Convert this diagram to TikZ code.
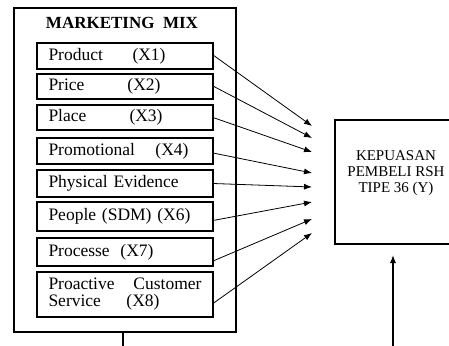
\documentclass[tikz,border=0pt]{standalone}
\usepackage{fontspec}
\setmainfont{Liberation Serif}
\usetikzlibrary{arrows.meta}
\begin{document}
\begin{tikzpicture}[x=1pt,y=-1pt,
  every node/.style={inner sep=0pt, outer sep=0pt},
  varbox/.style={draw, line width=2.4pt, minimum width=176pt, text width=153pt, align=left,
    font=\fontsize{17.5}{19}\selectfont},
  link/.style={line width=0.8pt, -{Latex[length=8pt,width=6pt]}}]
\useasboundingbox (0,0) rectangle (449,345);
\clip (0,0) rectangle (449,345);

% outer frame of the marketing mix
\node[draw, line width=1.4pt, minimum width=222pt, minimum height=324pt] (mix) at (125,170) {};
\node[font=\fontsize{17}{19}\selectfont\bfseries] (title) at (122,23) {MARKETING\ \ MIX};

% the eight variables
\node[varbox, minimum height=26pt] (b1) at (125,56)    {\makebox[84pt][l]{Product}(X1)};
\node[varbox, minimum height=25pt] (b2) at (125,86.5)  {\makebox[79pt][l]{Price}(X2)};
\node[varbox, minimum height=25pt] (b3) at (125,117.5) {\makebox[81pt][l]{Place}(X3)};
\node[varbox, minimum height=26pt] (b4) at (125,151)   {\makebox[107pt][l]{Promotional}(X4)};
\node[varbox, minimum height=27pt] (b5) at (125,183.5) {Physical\ Evidence};
\node[varbox, minimum height=29pt] (b6) at (125,216.5) {People (SDM) (X6)};
\node[varbox, minimum height=28pt] (b7) at (125,252)   {\makebox[72pt][l]{Processe}(X7)};
\node[varbox, minimum height=45pt, font=\fontsize{17.5}{17}\selectfont] (b8) at (125,294.5)
  {Proactive\hfill Customer\\\makebox[78pt][l]{Service}(X8)};

% dependent variable
\node[draw, line width=2pt, minimum width=122pt, minimum height=124pt, align=center,
  font=\fontsize{15}{16}\selectfont] (y) at (396,182)
  {KEPUASAN\\PEMBELI RSH\\TIPE 36 (Y)\\[5pt]};

% arrow ends
\coordinate (e1) at (312,126);
\coordinate (e2) at (312,138);
\coordinate (e3) at (312,152);
\coordinate (e4) at (312,173);
\coordinate (e5) at (312,187);
\coordinate (e6) at (312,202);
\coordinate (e7) at (312,219);
\coordinate (e8) at (312,233);
\coordinate (ybot) at (393,348);
\coordinate (ytip) at (393,255);
\coordinate (mixbot) at (123,348);

\draw[link] ([yshift=1pt]b1.east) -- (e1);
\draw[link] ([yshift=0.5pt]b2.east) -- (e2);
\draw[link] (b3.east) -- (e3);
\draw[link] ([yshift=-2pt]b4.east) -- (e4);
\draw[link] (b5.east) -- (e5);
\draw[link] ([yshift=-4pt]b6.east) -- (e6);
\draw[link] ([yshift=-9pt]b7.east) -- (e7);
\draw[link] ([yshift=-9pt]b8.east) -- (e8);

\draw[line width=1.2pt] ([xshift=-2pt]mix.south) -- (mixbot);
\draw[line width=1.2pt, -{Latex[length=8pt,width=6pt]}] (ybot) -- (ytip);
\end{tikzpicture}
\end{document}
